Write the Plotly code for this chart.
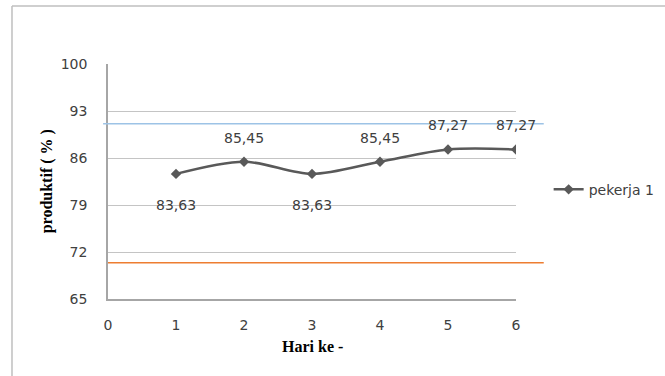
import plotly.graph_objects as go

# Productivity per day for worker 1
hari = [1, 2, 3, 4, 5, 6]
produktif = [83.63, 85.45, 83.63, 85.45, 87.27, 87.27]
label_pos = ["below", "above", "below", "above", "above", "above"]
seri = "pekerja 1"

# Control limits
batas_atas = 91.1
batas_bawah = 70.4

y_ticks = [65, 72, 79, 86, 93, 100]
x_ticks = [0, 1, 2, 3, 4, 5, 6]

tick_font = dict(family="DejaVu Sans", size=14, color="#404040")
grid_col = "#C4C4C4"

fig = go.Figure()
fig.add_trace(go.Scatter(
    x=hari, y=produktif, name=seri, mode="lines+markers",
    line=dict(color="#595959", width=2.5, shape="spline", smoothing=0.9),
    marker=dict(symbol="diamond", size=8, color="#595959"),
))

annotations = []
for x, y, pos in zip(hari, produktif, label_pos):
    annotations.append(dict(
        x=x, y=y, xref="x", yref="y", text=f"{y:.2f}".replace(".", ","),
        showarrow=False, font=tick_font, yanchor="middle",
        yshift=-31 if pos == "below" else 24,
    ))

annotations += [
    dict(x=-0.15, y=0.5, xref="paper", yref="paper", text="<b>produktif ( % )</b>",
         textangle=-90, showarrow=False, xanchor="center", yanchor="middle",
         font=dict(family="Liberation Serif", size=16, color="#000000")),
    dict(x=0.5, y=-0.204, xref="paper", yref="paper", text="<b>Hari ke -</b>",
         showarrow=False, xanchor="center", yanchor="middle",
         font=dict(family="Liberation Serif", size=16, color="#000000")),
]

shapes = [
    # control limits extending past the plot area
    dict(type="line", xref="paper", yref="y", x0=-0.012, x1=1.068,
         y0=batas_atas, y1=batas_atas, line=dict(color="#9DC3E6", width=1.3)),
    dict(type="line", xref="paper", yref="y", x0=0.0, x1=1.068,
         y0=batas_bawah, y1=batas_bawah, line=dict(color="#ED7D31", width=1.3)),
    # chart frame
    dict(type="line", xref="paper", yref="paper", x0=-0.2353, x1=1.4,
         y0=1.2468, y1=1.2468, line=dict(color="#BFBFBF", width=1.5)),
    dict(type="line", xref="paper", yref="paper", x0=-0.2353, x1=-0.2353,
         y0=1.2468, y1=-0.4, line=dict(color="#BFBFBF", width=1.5)),
]

fig.update_layout(
    width=665, height=376,
    margin=dict(l=108, r=149, t=64, b=77, autoexpand=False),
    paper_bgcolor="white", plot_bgcolor="white",
    showlegend=True,
    legend=dict(x=1.08, y=0.465, xanchor="left", yanchor="middle",
                font=dict(family="DejaVu Sans", size=14, color="#404040"),
                bgcolor="rgba(0,0,0,0)", itemwidth=30),
    annotations=annotations,
    shapes=shapes,
)
fig.update_xaxes(
    range=[0, 6], tickvals=x_ticks, showgrid=False, zeroline=False,
    showline=True, linecolor="#A6A6A6", linewidth=1.5,
    tickfont=tick_font, ticks="", ticklabelstandoff=12,
)
fig.update_yaxes(
    range=[65, 100], tickvals=y_ticks, showgrid=True, gridcolor=grid_col,
    gridwidth=1.3, zeroline=False, showline=True, linecolor="#A6A6A6",
    linewidth=1.5, tickfont=tick_font, ticks="", ticklabelstandoff=16,
)

fig.write_html("out.html")
